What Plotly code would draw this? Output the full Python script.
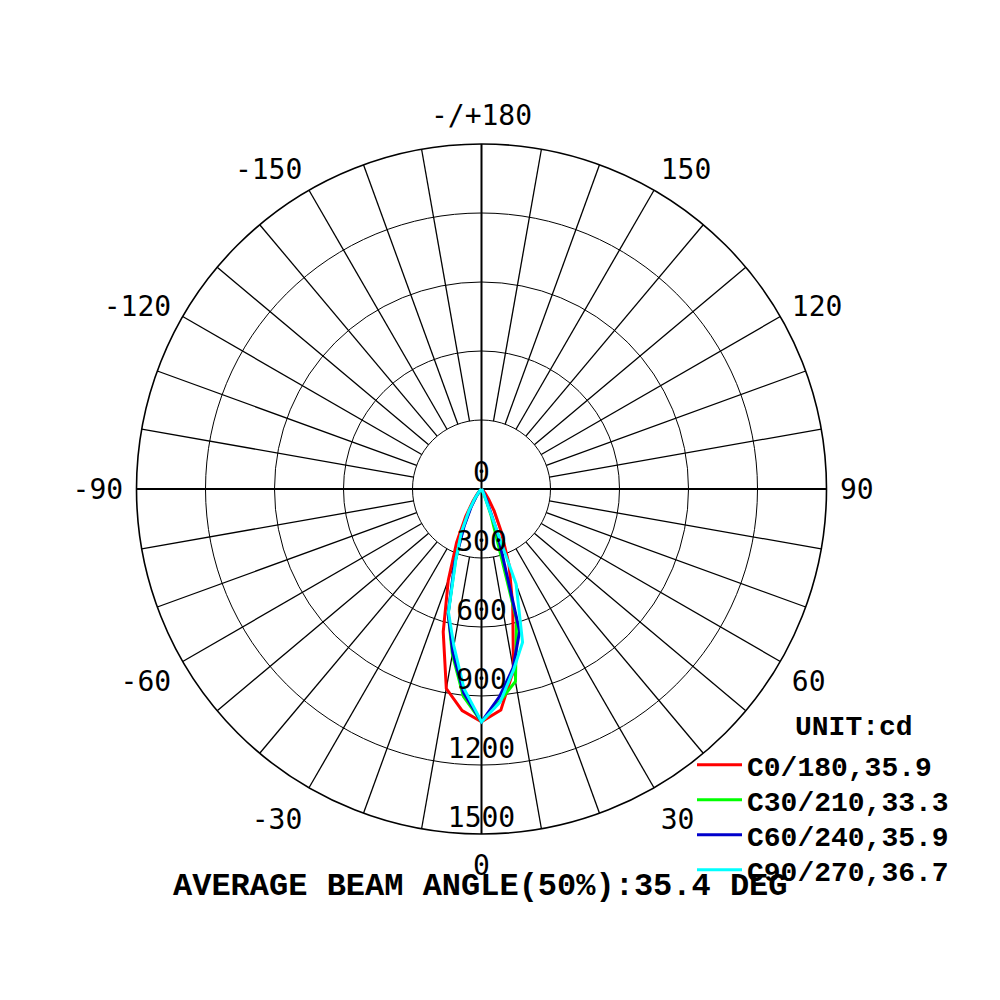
import plotly.graph_objects as go

# gamma angles (deg) and intensities (cd) for each half plane
gamma = [0, 5, 10, 15, 20, 25, 30, 35, 40, 45, 50]

c0 = [1012, 965, 800, 525, 350, 200, 110, 55, 25, 10, 0]
c180 = [1012, 967, 881, 643, 422, 256, 137, 65, 28, 12, 0]
c30 = [1012, 925, 850, 590, 120, 30, 0, 0, 0, 0, 0]
c210 = [1012, 905, 730, 560, 330, 190, 100, 45, 15, 5, 0]
c60 = [1012, 905, 790, 640, 200, 50, 15, 0, 0, 0, 0]
c240 = [1012, 890, 720, 560, 340, 180, 90, 40, 15, 5, 0]
c90 = [1012, 930, 800, 690, 440, 20, 5, 0, 0, 0, 0]
c270 = [1012, 872, 692, 555, 326, 206, 110, 50, 20, 8, 0]

curve_names = ["C0/180,35.9", "C30/210,33.3", "C60/240,35.9", "C90/270,36.7"]
curve_colors = ["#ff0000", "#00ff00", "#0000cc", "#00ffff"]
curve_data = [(c0, c180), (c30, c210), (c60, c240), (c90, c270)]

ring_vals = [0, 300, 600, 900, 1200, 1500]
angle_ticks = [0, 30, 60, 90, 120, 150, 180, 210, 240, 270, 300, 330]
angle_text = ["0", "30", "60", "90", "120", "150", "-/+180",
              "-150", "-120", "-90", "-60", "-30"]
spoke_angles = [a for a in range(0, 360, 10) if a % 90 != 0]

R_MAX = 1500
R_IN = 300

TICK_FONT = dict(family="DejaVu Sans Mono", size=28, color="black")
MONO_BOLD = "Liberation Mono"

fig = go.Figure()

# spokes from inner ring to the outer circle
sr, st = [], []
for a in spoke_angles:
    sr += [R_IN, R_MAX, None]
    st += [a, a, None]
fig.add_trace(go.Scatterpolar(r=sr, theta=st, mode="lines",
                              line=dict(color="black", width=1.3),
                              showlegend=False, hoverinfo="skip"))

# main cross through the centre
fig.add_trace(go.Scatterpolar(r=[R_MAX, 0, R_MAX, None, R_MAX, 0, R_MAX],
                              theta=[0, 0, 180, None, 90, 90, 270],
                              mode="lines", line=dict(color="black", width=2),
                              showlegend=False, hoverinfo="skip"))

# intensity curves: right side = first plane, left side = opposite plane
legend_ids = ["legend", "legend2", "legend3", "legend4"]
for name, color, (right, left), lg in zip(curve_names, curve_colors, curve_data, legend_ids):
    th = [-g for g in gamma[::-1]] + gamma[1:]
    rr = left[::-1] + right[1:]
    fig.add_trace(go.Scatterpolar(r=rr, theta=th, mode="lines", name=name,
                                  legend=lg, line=dict(color=color, width=3)))

# ring labels along the 0 deg axis
fig.add_trace(go.Scatterpolar(r=ring_vals, theta=[0] * len(ring_vals),
                              mode="text", text=[str(v) for v in ring_vals],
                              textposition="top center", cliponaxis=False,
                              textfont=TICK_FONT,
                              showlegend=False, hoverinfo="skip"))

# one legend box per entry so the rows sit at the reference spacing
leg_rows = [0.243, 0.208, 0.173, 0.138]
leg_style = dict(x=0.684, xanchor="left", yanchor="middle", itemwidth=45,
                 bgcolor="rgba(0,0,0,0)",
                 font=dict(family=MONO_BOLD, size=28, color="black", weight="bold"))

fig.update_layout(
    width=1000, height=1000,
    margin=dict(l=0, r=0, t=0, b=0),
    paper_bgcolor="white",
    showlegend=True,
    polar=dict(
        domain=dict(x=[0.1285, 0.8185], y=[0.174, 0.864]),
        bgcolor="white",
        radialaxis=dict(range=[0, R_MAX], tickvals=ring_vals[1:-1],
                        showticklabels=False, ticks="", showline=False,
                        gridcolor="black", gridwidth=1.3),
        angularaxis=dict(rotation=270, direction="counterclockwise",
                         tickvals=angle_ticks, ticktext=angle_text,
                         showgrid=False, showline=True, linecolor="black",
                         linewidth=1.6, ticks="outside", ticklen=7,
                         tickcolor="rgba(0,0,0,0)", tickfont=TICK_FONT),
    ),
    legend=dict(y=leg_rows[0], **leg_style),
    legend2=dict(y=leg_rows[1], **leg_style),
    legend3=dict(y=leg_rows[2], **leg_style),
    legend4=dict(y=leg_rows[3], **leg_style),
    annotations=[
        dict(text="UNIT:cd", x=0.846, y=0.281, xref="paper", yref="paper",
             xanchor="center", yanchor="middle", showarrow=False,
             font=dict(family=MONO_BOLD, size=28, color="black", weight="bold")),
        dict(text="AVERAGE BEAM ANGLE(50%):35.4 DEG", x=0.472, y=0.122,
             xref="paper", yref="paper", xanchor="center", yanchor="middle",
             showarrow=False,
             font=dict(family=MONO_BOLD, size=32, color="black", weight="bold")),
    ],
)

fig.write_html("out.html")
